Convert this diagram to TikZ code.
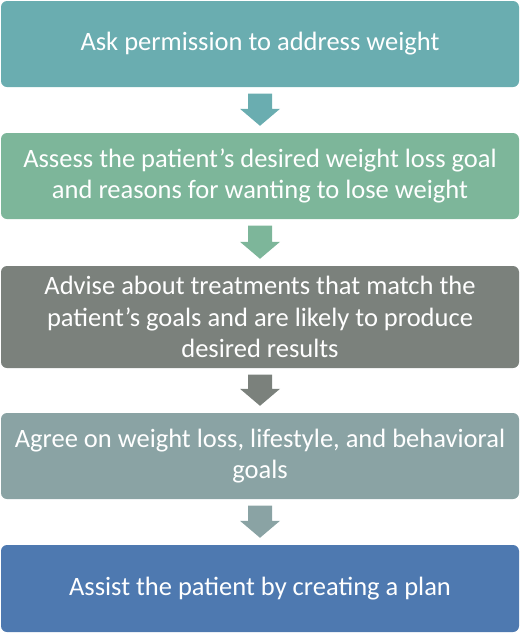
\documentclass[tikz,border=0pt]{standalone}
\usepackage{fontspec}
\setmainfont{Carlito}
\definecolor{cA}{HTML}{6AADB0}
\definecolor{cB}{HTML}{7DB69A}
\definecolor{cC}{HTML}{7B817C}
\definecolor{cD}{HTML}{8AA3A4}
\definecolor{cE}{HTML}{4E79B0}
\newcommand\flowarrow[3]{%
  \fill[#3] ([xshift=-12pt,yshift=-6.5pt]#1.south) -- ([xshift=-12pt,yshift=24pt]#2.north)
    -- ([xshift=-20pt,yshift=24pt]#2.north) -- ([yshift=7pt]#2.north)
    -- ([xshift=20pt,yshift=24pt]#2.north) -- ([xshift=12pt,yshift=24pt]#2.north)
    -- ([xshift=12pt,yshift=-6.5pt]#1.south) -- cycle;}
\begin{document}
\begin{tikzpicture}[x=1pt,y=-1pt,
  box/.style={rectangle, rounded corners=6pt, minimum width=518pt, align=center,
    text=white, font=\fontsize{26.5}{31.5}\selectfont, inner sep=0pt}]
\useasboundingbox (0,0) rectangle (520,633);
\node[box, fill=cA, minimum height=86pt] (b1) at (260,44) {Ask permission to address weight};
\node[box, fill=cB, minimum height=86pt] (b2) at (260,176) {Assess the patient’s desired weight loss goal\\and reasons for wanting to lose weight};
\node[box, fill=cC, minimum height=102pt] (b3) at (260,317) {Advise about treatments that match the\\patient’s goals and are likely to produce\\desired results};
\node[box, fill=cD, minimum height=86pt] (b4) at (260,456) {Agree on weight loss, lifestyle, and behavioral\\goals};
\node[box, fill=cE, minimum height=87pt] (b5) at (260,588.5) {Assist the patient by creating a plan};
\flowarrow{b1}{b2}{cA}
\flowarrow{b2}{b3}{cB}
\flowarrow{b3}{b4}{cC}
\flowarrow{b4}{b5}{cD}
\end{tikzpicture}
\end{document}
